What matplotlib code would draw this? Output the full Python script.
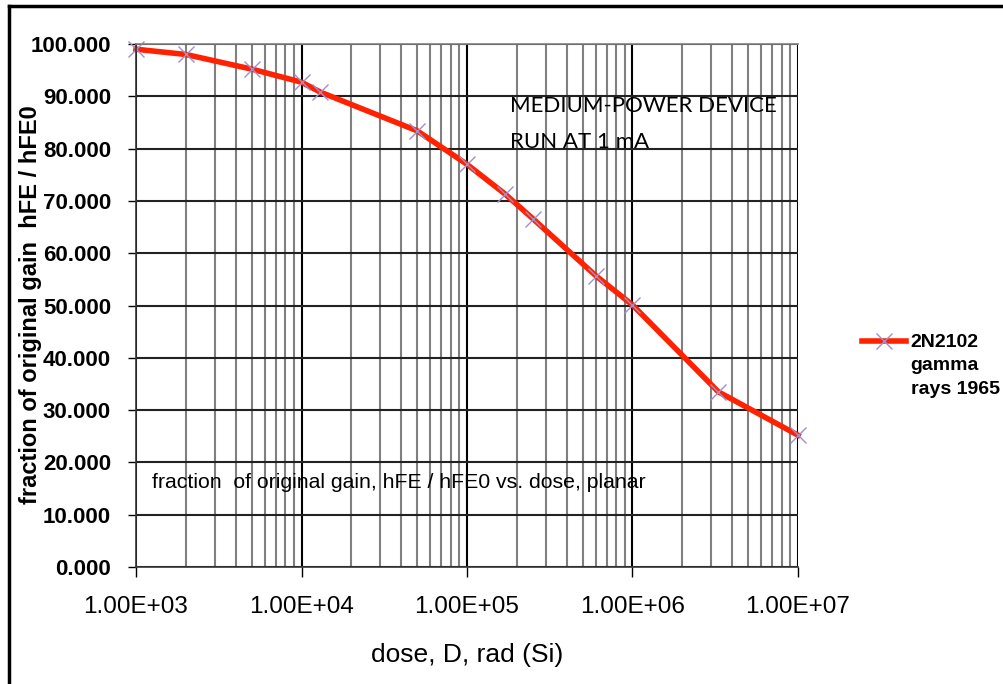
import numpy as np
import matplotlib
matplotlib.use("Agg")
import matplotlib.pyplot as plt
from matplotlib.ticker import LogLocator, FixedLocator, NullFormatter
from matplotlib.lines import Line2D

# dose (rad Si) and fraction of original gain (%)
dose = np.array([1e3, 2e3, 5e3, 1e4, 1.3e4, 5e4, 1e5, 1.7e5, 2.5e5, 6e5, 1e6, 3.3e6, 1e7])
gain = np.array([99.0, 98.0, 95.2, 92.7, 90.8, 83.4, 77.0, 71.3, 66.6, 55.7, 50.1, 33.5, 25.2])
series_label = "2N2102\ngamma\nrays 1965"
xticks = [1e3, 1e4, 1e5, 1e6, 1e7]
xtick_labels = ["1.00E+03", "1.00E+04", "1.00E+05", "1.00E+06", "1.00E+07"]
yticks = np.arange(0, 101, 10)
ytick_labels = ["%.3f" % v for v in yticks]

plt.rcParams['font.family'] = ['Liberation Sans', 'DejaVu Sans']

fig = plt.figure(figsize=(10.04, 6.84), dpi=100)
ax = fig.add_axes([136/1004, 1 - 567/684, 662/1004, 523/684])

ax.set_xscale('log')
ax.set_xlim(1e3, 1e7)
ax.set_ylim(0, 100)

# grid: gray minor verticals, black decades and horizontals
ax.xaxis.set_minor_locator(LogLocator(base=10, subs=np.arange(2, 10)))
ax.xaxis.set_minor_formatter(NullFormatter())
ax.grid(which='minor', axis='x', color='#808080', lw=1.5)
ax.grid(which='major', axis='x', color='black', lw=1.5)
ax.grid(which='major', axis='y', color='#222222', lw=1.5)
ax.set_axisbelow(True)

ax.xaxis.set_major_locator(FixedLocator(xticks))
ax.set_xticklabels(xtick_labels, fontsize=17.5)
ax.set_yticks(yticks)
ax.set_yticklabels(ytick_labels, fontsize=16, fontweight='bold')
ax.tick_params(axis='x', which='major', direction='out', length=7, width=1, pad=14)
ax.tick_params(axis='x', which='minor', length=0)
ax.tick_params(axis='y', direction='out', length=6, width=1, pad=12)

for s in ['left', 'bottom']:
    ax.spines[s].set_color('#333333')
    ax.spines[s].set_linewidth(1.2)
ax.spines['top'].set_color('#808080')
ax.spines['top'].set_linewidth(1.2)
ax.spines['right'].set_visible(False)

ax.plot(dose, gain, color='#ff2200', lw=4, marker='x', markersize=12,
        markeredgecolor='#9d8fd0', markeredgewidth=1.0, label=series_label,
        solid_joinstyle='round', clip_on=False)

ax.set_xlabel('dose, D, rad (Si)', fontsize=19, labelpad=18)
ax.set_ylabel('fraction of original gain  hFE / hFE0', fontsize=17,
              fontweight='bold', va='center')
ax.yaxis.set_label_coords((31 - 136) / 662, (567 - 305) / 523)

ax.text(0.565, 0.870, 'MEDIUM-POWER DEVICE', transform=ax.transAxes,
        fontsize=16, family='Lato', va='baseline', ha='left')
ax.text(0.565, 0.801, 'RUN AT 1 mA', transform=ax.transAxes,
        fontsize=16, family='Lato', va='baseline', ha='left')
ax.text(0.024, 0.151, 'fraction  of original gain, hFE / hFE0 vs. dose, planar',
        transform=ax.transAxes, fontsize=15.3, va='baseline', ha='left')

leg = ax.legend(loc='upper left', bbox_to_anchor=(862/1004, 1 - 334/684),
                bbox_transform=fig.transFigure, frameon=False,
                prop={'size': 14, 'weight': 'bold'}, handlelength=2.25,
                handletextpad=0.25, borderaxespad=0, borderpad=0)
for t in leg.get_texts():
    t.set_linespacing(1.5)
# put the legend line next to the first text line
for col in leg._legend_handle_box.get_children():
    for row in col.get_children():
        row.align = 'top'

# outer frame (left and top edges)
fig.add_artist(Line2D([9/1004, 9/1004], [0, 1 - 6/684], transform=fig.transFigure,
                      color='black', lw=2.5))
fig.add_artist(Line2D([9/1004, 1], [1 - 6/684, 1 - 6/684], transform=fig.transFigure,
                      color='black', lw=2.5))

fig.savefig('out.png', dpi=100)
